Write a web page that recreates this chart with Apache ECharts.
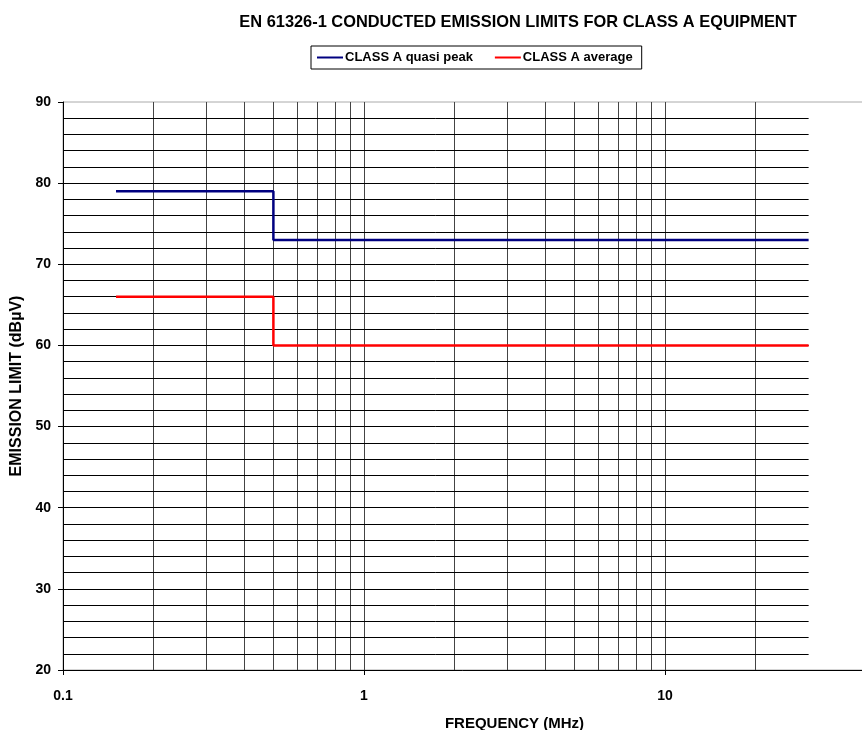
<!DOCTYPE html>
<html><head><meta charset="utf-8">
<script src="https://cdn.jsdelivr.net/npm/echarts@6/dist/echarts.min.js"></script>
<style>html,body{margin:0;padding:0;background:#fff}#c{width:862px;height:730px}</style>
</head><body><div id="c"></div>
<script>
// Data
const quasiPeakFreq = [0.15, 0.5, 0.5, 30];
const quasiPeakLevel = [79, 79, 73, 73];
const averageFreq = [0.15, 0.5, 0.5, 30];
const averageLevel = [66, 66, 60, 60];
const seriesNames = ['CLASS A quasi peak', 'CLASS A average'];
const gridFreqs = [0.2, 0.3, 0.4, 0.5, 0.6, 0.7, 0.8, 0.9, 1, 2, 3, 4, 5, 6, 7, 8, 9, 10, 20];
const gridLevels = [22, 24, 26, 28, 30, 32, 34, 36, 38, 40, 42, 44, 46, 48, 50, 52, 54, 56, 58, 60, 62, 64, 66, 68, 70, 72, 74, 76, 78, 80, 82, 84, 86, 88];
const freqRange = [0.1, 30];

const FONT = 'Arial, "Liberation Sans", sans-serif';
const chart = echarts.init(document.getElementById('c'));
const zip = (xs, ys) => xs.map((x, i) => [x, ys[i]]);

chart.setOption({
  animation: false,
  title: {
    text: 'EN 61326-1 CONDUCTED EMISSION LIMITS FOR CLASS A EQUIPMENT',
    left: 513, top: 9, textAlign: 'center',
    textStyle: { fontFamily: FONT, fontSize: 16.4, fontWeight: 'bold', color: '#000' }
  },
  legend: {
    data: seriesNames,
    left: 311, top: 46,
    borderColor: '#000', borderWidth: 1, padding: [5, 9, 5, 6],
    itemWidth: 26, itemHeight: 2, itemGap: 22,
    textStyle: { fontFamily: FONT, fontSize: 13, fontWeight: 'bold', color: '#000', padding: [0, 0, 0, -3] },
    icon: 'rect'
  },
  grid: { left: 63, top: 102, width: 903, bottom: 60, outerBoundsMode: 'none', containLabel: false,
          show: true, borderColor: '#aaa', borderWidth: 1, backgroundColor: 'transparent' },
  xAxis: {
    type: 'log', logBase: 10, min: 0.1, max: 100,
    name: 'FREQUENCY (MHz)', nameLocation: 'middle', nameGap: 46,
    nameTextStyle: { fontFamily: FONT, fontSize: 15, fontWeight: 'bold', color: '#000' },
    axisLine: { lineStyle: { color: '#000', width: 1 } },
    axisTick: { show: true, length: 5, lineStyle: { color: '#000' } },
    axisLabel: { fontFamily: FONT, fontSize: 14, fontWeight: 'bold', color: '#000', margin: 19, formatter: v => String(v) },
    splitLine: { show: false }
  },
  yAxis: {
    type: 'value', min: 20, max: 90, interval: 10,
    name: 'EMISSION LIMIT (dBµV)', nameLocation: 'middle', nameGap: 37, nameRotate: 90,
    nameTextStyle: { fontFamily: FONT, fontSize: 16, fontWeight: 'bold', color: '#000' },
    axisLine: { show: true, lineStyle: { color: '#000', width: 1 } },
    axisTick: { show: true, length: 5, lineStyle: { color: '#000' } },
    axisLabel: { fontFamily: FONT, fontSize: 14, fontWeight: 'bold', color: '#000', margin: 12 },
    splitLine: { show: false }
  },
  series: [
    {
      name: 'gridlines', type: 'line', data: [], silent: true, legendHoverLink: false,
      markLine: {
        silent: true, symbol: 'none', label: { show: false }, animation: false,
        lineStyle: { type: 'solid', color: '#000', width: 1 },
        emphasis: { disabled: true },
        data: gridFreqs.map(f => ({ xAxis: f, lineStyle: { color: '#444' } }))
          .concat(gridLevels.map(l => [{ coord: [freqRange[0], l] }, { coord: [freqRange[1], l] }]))
      }
    },
    {
      name: seriesNames[0], type: 'line', data: zip(quasiPeakFreq, quasiPeakLevel),
      symbol: 'none', lineStyle: { color: '#000080', width: 2.5 }, itemStyle: { color: '#000080' }, z: 5
    },
    {
      name: seriesNames[1], type: 'line', data: zip(averageFreq, averageLevel),
      symbol: 'none', lineStyle: { color: '#ff0000', width: 2.5 }, itemStyle: { color: '#ff0000' }, z: 5
    }
  ]
});
</script></body></html>
